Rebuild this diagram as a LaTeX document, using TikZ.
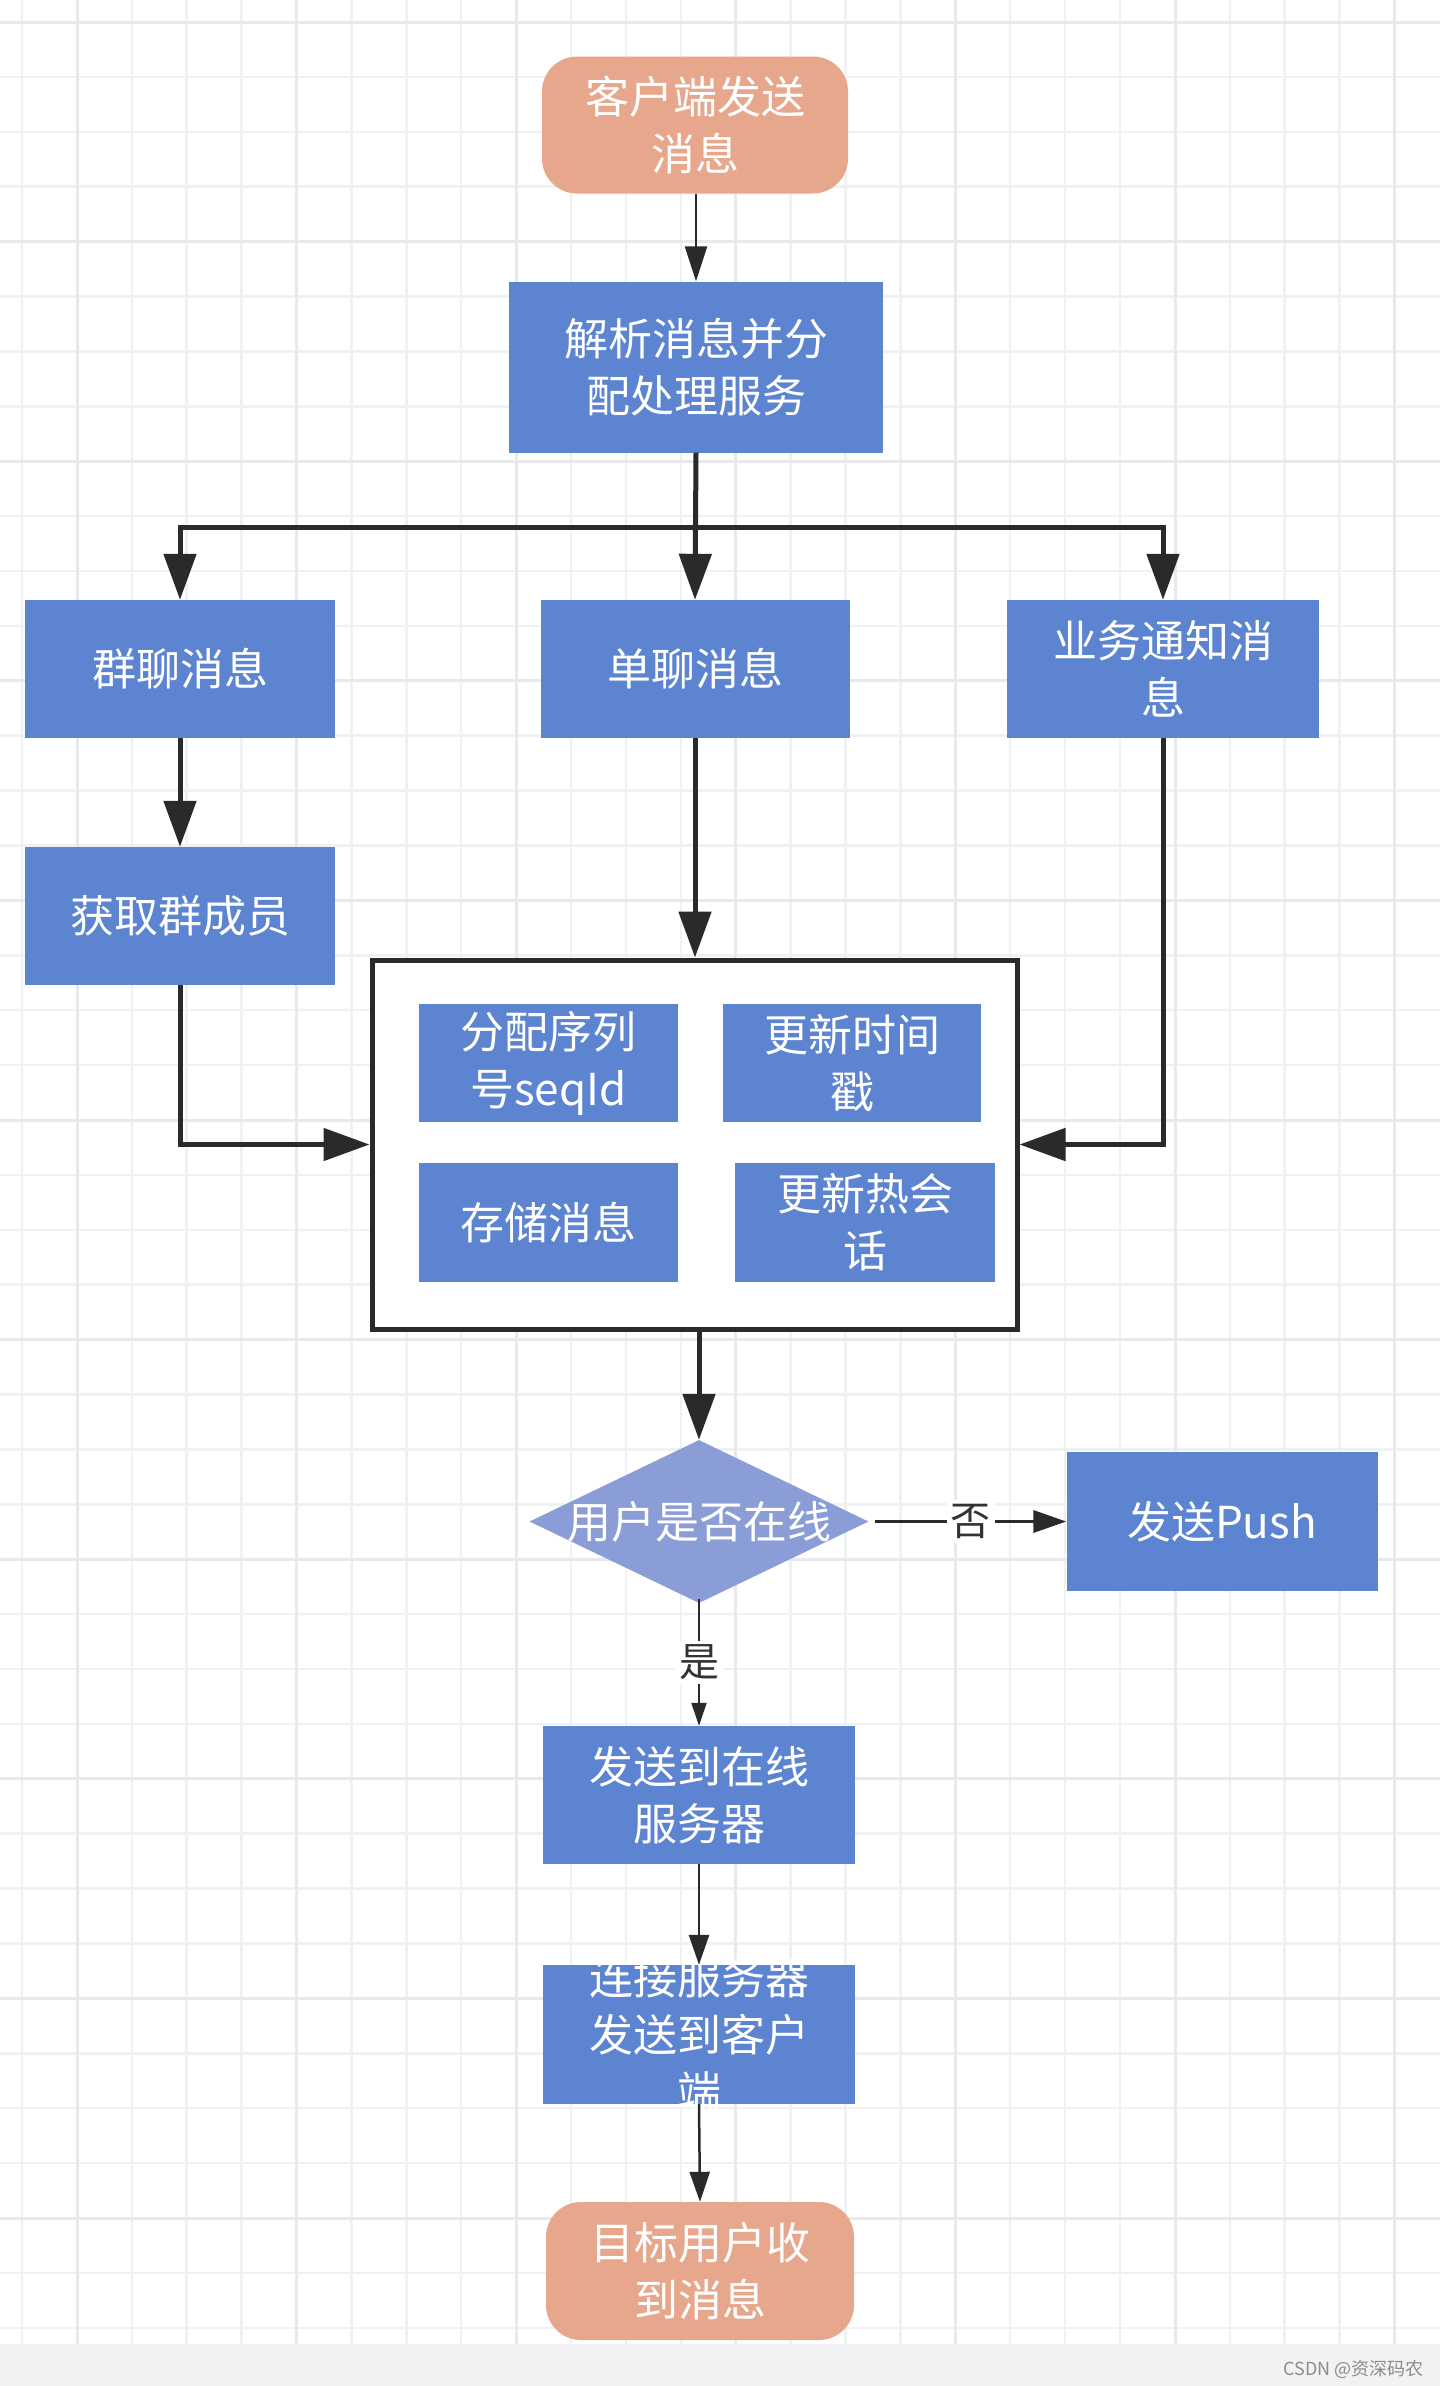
\documentclass[tikz,border=0pt]{standalone}
\usepackage{fontspec}
\setmainfont{Noto Sans CJK SC}
\usetikzlibrary{arrows.meta,shapes.geometric}
\definecolor{boxblue}{RGB}{92,132,208}
\definecolor{salmon}{RGB}{231,167,141}
\definecolor{diablue}{RGB}{139,157,215}
\definecolor{gridminor}{RGB}{240,241,243}
\definecolor{gridmajor}{RGB}{232,233,236}
\definecolor{linedark}{RGB}{42,42,42}
\definecolor{bandgray}{RGB}{241,242,244}
\definecolor{wmgray}{RGB}{140,140,140}
\definecolor{labeldark}{RGB}{51,51,51}
\begin{document}
\begin{tikzpicture}[x=1pt,y=-1pt,
  txt/.style={font=\fontsize{44}{57}\selectfont, text=white, align=center},
  bluebox/.style={txt, fill=boxblue, draw=none, rectangle, inner sep=0pt},
  termbox/.style={txt, fill=salmon, draw=none, rectangle, rounded corners=35pt, inner sep=0pt},
  decision/.style={fill=diablue, draw=none, diamond, inner sep=0pt},
  holder/.style={rectangle, draw=linedark, fill=white, line width=5pt, inner sep=0pt},
  thickflow/.style={line width=5pt, draw=linedark, -{Triangle[length=46pt,width=32pt]}},
  thinflow/.style={line width=2.5pt, draw=linedark, -{Triangle[length=32pt,width=21pt]}},
  noflow/.style={line width=3.5pt, draw=linedark, -{Triangle[length=33pt,width=22pt]}},
  yesflow/.style={line width=2pt, draw=linedark, -{Triangle[length=23pt,width=15pt]}},
  edgelabel/.style={font=\fontsize{40}{44}\selectfont, text=labeldark, fill=white, inner sep=4pt},
  minorline/.style={draw=gridminor, line width=2.5pt},
  majorline/.style={draw=gridmajor, line width=3pt}
]
\useasboundingbox (0,0) rectangle (1440,2386);
\fill[white] (0,0) rectangle (1440,2386);
% grid
\foreach \i in {0,...,25} \draw[minorline] ({22+54.9*\i},0) -- ({22+54.9*\i},2344);
\foreach \j in {0,...,42} \draw[minorline] (0,{22+54.9*\j}) -- (1440,{22+54.9*\j});
\foreach \i in {0,...,6} \draw[majorline] ({77+219.6*\i},0) -- ({77+219.6*\i},2344);
\foreach \j in {0,...,10} \draw[majorline] (0,{22+219.6*\j}) -- (1440,{22+219.6*\j});
\fill[bandgray] (0,2344) rectangle (1440,2386);
\node[anchor=east, font=\fontsize{18}{20}\selectfont, text=wmgray, inner sep=0pt] (wm) at (1424,2369) {CSDN @资深码农};

% nodes
\node[termbox, minimum width=306pt, minimum height=137pt] (start) at (695,125) {客户端发送\\消息};
\node[bluebox, minimum width=374pt, minimum height=171pt] (parse) at (696,367) {解析消息并分\\配处理服务};
\node[bluebox, minimum width=310pt, minimum height=138pt] (group) at (180,669) {群聊消息};
\node[bluebox, minimum width=309pt, minimum height=138pt] (single) at (695,669) {单聊消息};
\node[bluebox, minimum width=312pt, minimum height=138pt] (biz) at (1163,669) {业务通知消\\息};
\node[bluebox, minimum width=310pt, minimum height=138pt] (members) at (180,916) {获取群成员};
\node[holder, minimum width=645pt, minimum height=369pt] (hold) at (694.5,1144.5) {};
\node[bluebox, minimum width=259pt, minimum height=118pt] (seq) at (548.5,1063) {分配序列\\号seqId};
\node[bluebox, minimum width=258pt, minimum height=118pt] (stamp) at (852,1063) {更新时间\\戳};
\node[bluebox, minimum width=259pt, minimum height=119pt] (store) at (548.5,1222.5) {存储消息};
\node[bluebox, minimum width=260pt, minimum height=119pt] (hot) at (865,1222.5) {更新热会\\话};
\node[decision, minimum width=339pt, minimum height=163pt, label={[txt]center:用户是否在线}] (dec) at (699,1521.5) {};
\node[bluebox, minimum width=311pt, minimum height=139pt] (push) at (1222,1521.5) {发送Push};
\node[bluebox, minimum width=312pt, minimum height=138pt] (online) at (699,1795) {发送到在线\\服务器};
\node[bluebox, minimum width=312pt, minimum height=139pt, label={[txt]center:连接服务器\\发送到客户\\端}] (conn) at (699,2034.5) {};
\node[termbox, minimum width=308pt, minimum height=138pt] (finish) at (700,2271) {目标用户收\\到消息};

% connectors
\coordinate (br) at (696,527);
\draw[thinflow, -{Triangle[length=35pt,width=22pt]}] (start.south -| parse.north) -- (parse.north);
\draw[thickflow] (parse.south) -- (single.north);
\draw[thickflow] (br) -| (group.north);
\draw[thickflow] (br) -| (biz.north);
\draw[thickflow] (group.south) -- (members.north);
\draw[thickflow] (members.south) |- (hold.west);
\draw[thickflow] (biz.south) |- (hold.east);
\draw[thickflow] (single.south) -- (single.south |- hold.north);
\draw[thickflow] (hold.south -| dec.north) -- (dec.north);
\draw[noflow] ([xshift=6pt]dec.east) -- node[edgelabel] {否} (push.west);
\draw[yesflow] ([yshift=4pt]dec.south) -- node[edgelabel] {是} (online.north);
\draw[thinflow, -{Triangle[length=30pt,width=20pt]}] (online.south) -- (conn.north);
\draw[thinflow, -{Triangle[length=30pt,width=20pt]}] (conn.south) -- (finish.north);
\end{tikzpicture}
\end{document}
